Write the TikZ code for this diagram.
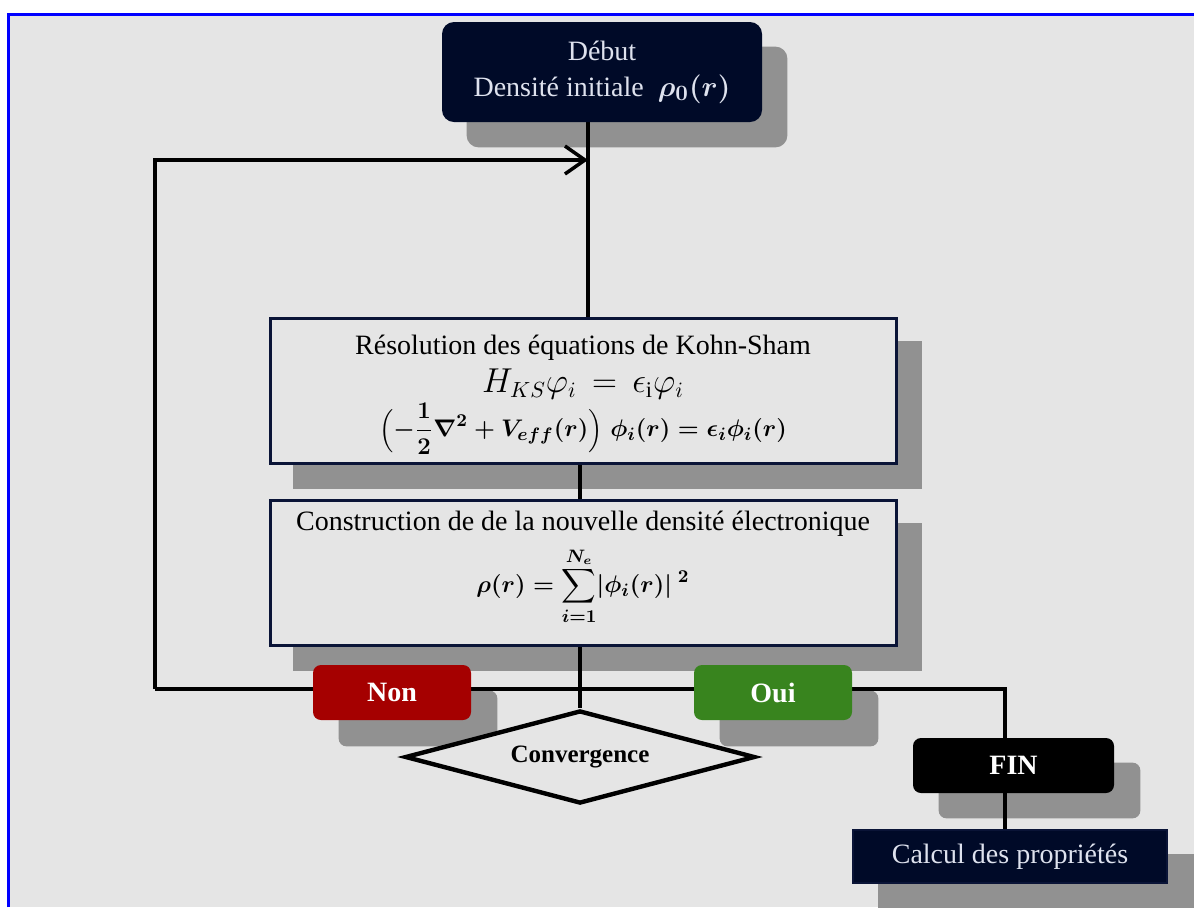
\documentclass[tikz,border=0pt]{standalone}
\usepackage{amsmath}
\usepackage{fontspec}
\setmainfont{Liberation Serif}
\usetikzlibrary{shapes.geometric,arrows.meta}
\definecolor{bgc}{RGB}{229,229,229}
\definecolor{shc}{RGB}{145,145,145}
\definecolor{navy}{RGB}{0,10,40}
\definecolor{navyline}{RGB}{10,20,55}
\definecolor{lighttext}{RGB}{222,226,238}
\definecolor{redbox}{RGB}{165,0,0}
\definecolor{greenbox}{RGB}{56,132,30}
\definecolor{framec}{RGB}{0,0,255}
\pgfdeclarelayer{bgl}\pgfdeclarelayer{shl}\pgfdeclarelayer{lnl}
\pgfsetlayers{bgl,shl,lnl,main}
\newcommand\consformula{{\fontsize{12.5}{15}\selectfont\boldmath$\displaystyle\rho(r)=\sum_{i=1}^{N_e}\lvert\phi_i(r)\rvert^{\;2}$}}
\begin{document}
\begin{tikzpicture}[x=0.5pt,y=-0.5pt,
  txt/.style={font=\fontsize{14}{17}\selectfont},
  whitebox/.style={draw=navyline,line width=1.5pt,fill=bgc,minimum width=313pt,minimum height=72.5pt,inner sep=0pt},
  boxtext/.style={txt,align=center,inner sep=0pt},
  plaintext/.style={txt,inner sep=0pt},
  darkbox/.style={txt,fill=navy,text=lighttext,align=center,inner sep=0pt},
  pill/.style={rounded corners=4pt,minimum width=79pt,minimum height=27.5pt,inner sep=0pt,text=white,font=\bfseries\fontsize{14}{16}\selectfont},
  conn/.style={line width=1.75pt,black},
  shadowfill/.style={fill=shc}
]
\useasboundingbox (0,0) rectangle (1194,907);
\begin{pgfonlayer}{bgl}
\fill[white] (0,0) rectangle (1194,907);
\fill[bgc] (8,14) rectangle (1194,907);
\draw[framec,line width=1.5pt] (8,907) -- (8,14) -- (1194,14);
\end{pgfonlayer}

% nodes
\node[darkbox,rounded corners=6pt,minimum width=160pt,minimum height=50pt] (debut) at (602,72)
  {D\'ebut\\[1pt] Densit\'e initiale \ {\fontsize{15}{18}\selectfont\boldmath$\rho_0(r)$}};
\node[whitebox] (ks) at (583,390.5) {};
\node[boxtext] (kst) at (583,395)
  {R\'esolution des \'equations de Kohn-Sham\\[2pt]
   {\fontsize{16}{18}\selectfont$H_{KS}\varphi_i \,=\, \epsilon_{\mathrm{i}}\varphi_i$}\\[1pt]
   {\fontsize{12.5}{15}\selectfont\boldmath$\displaystyle\Bigl(-\frac{1}{2}\nabla^2+V_{eff}(r)\Bigr)\;\phi_i(r)=\epsilon_i\phi_i(r)$}};
\node[whitebox] (cons) at (583,572.5) {};
\node[plaintext] (constext) at (583,524) {Construction de de la nouvelle densit\'e \'electronique};
\node[plaintext] (consf) at (583,586) {\consformula};
\node[pill,fill=redbox] (non) at (392,692.5) {Non};
\node[pill,fill=greenbox] (oui) at (773,692.5) {Oui};
\node[draw=black,line width=2.2pt,fill=bgc,diamond,aspect=3.76,minimum width=175pt,minimum height=46.5pt,inner sep=0pt,font=\bfseries\fontsize{12.5}{14}\selectfont] (conv) at (580,757) {Convergence};
\node[pill,fill=black,minimum width=100.5pt] (fin) at (1013.5,765.5) {FIN};
\node[darkbox,draw=navyline,line width=0.6pt,minimum width=157pt,minimum height=26.5pt] (calc) at (1010,856.5) {Calcul des propri\'et\'es};

% shadows
\begin{pgfonlayer}{shl}
\fill[shadowfill,rounded corners=6pt] ([shift={(25,25)}]debut.north west) rectangle ([shift={(25,25)}]debut.south east);
\fill[shadowfill] ([shift={(24,24)}]ks.north west) rectangle ([shift={(24,24)}]ks.south east);
\fill[shadowfill] ([shift={(24,24)}]cons.north west) rectangle ([shift={(24,24)}]cons.south east);
\fill[shadowfill,rounded corners=4pt] ([shift={(26,26)}]non.north west) rectangle ([shift={(26,26)}]non.south east);
\fill[shadowfill,rounded corners=4pt] ([shift={(26,26)}]oui.north west) rectangle ([shift={(26,26)}]oui.south east);
\fill[shadowfill,rounded corners=4pt] ([shift={(26,25)}]fin.north west) rectangle ([shift={(26,25)}]fin.south east);
\fill[shadowfill] ([shift={(26,25)}]calc.north west) rectangle ([shift={(26,25)}]calc.south east);
\end{pgfonlayer}

% connectors
\coordinate (tx) at (588,0);
\coordinate (cx) at (580,0);
\coordinate (L) at (155,689);
\coordinate (R) at (1005,689);
\coordinate (A) at (155,160);
\begin{pgfonlayer}{lnl}
\draw[conn] (debut.south -| tx) -- (ks.north -| tx);
\draw[conn,-{Straight Barb[length=10pt,width=14pt,line width=1.75pt]}] (L) -- (A) -- (A -| tx);
\draw[conn] (ks.south -| cx) -- (cons.north -| cx);
\draw[conn] (cons.south -| cx) -- (conv.north);
\draw[conn] (L) -- (R) -- (R |- fin.north);
\draw[conn] (fin.south -| R) -- (calc.north -| R);
\end{pgfonlayer}
\end{tikzpicture}
\end{document}
